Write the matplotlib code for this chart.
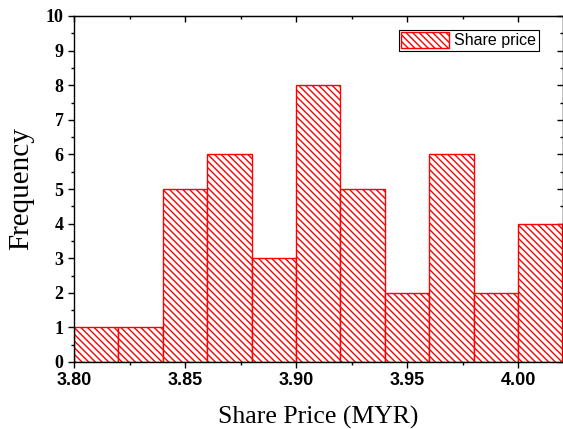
import matplotlib
matplotlib.use("Agg")
import matplotlib.pyplot as plt
from matplotlib.ticker import MultipleLocator
import numpy as np

# histogram bins (left edges) and counts
bin_edges = [3.80, 3.82, 3.84, 3.86, 3.88, 3.90, 3.92, 3.94, 3.96, 3.98, 4.00, 4.02]
counts = [1, 1, 5, 6, 3, 8, 5, 2, 6, 2, 4]
x_ticks = [3.80, 3.85, 3.90, 3.95, 4.00]
series_name = "Share price"

plt.rcParams['hatch.color'] = 'red'
plt.rcParams['hatch.linewidth'] = 1.0

fig = plt.figure(figsize=(5.63, 4.29), dpi=100)
ax = fig.add_axes([74 / 563, 1 - 362 / 429, (562.5 - 74) / 563, (362 - 16) / 429])

lefts = np.array(bin_edges[:-1])
widths = np.diff(bin_edges)
ax.bar(lefts, counts, width=widths, align='edge', facecolor='white',
       edgecolor='red', linewidth=1.0, hatch='\\' * 5, label=series_name)

ax.set_xlim(3.80, 4.02)
ax.set_ylim(0, 10)
ax.set_xticks(x_ticks)
ax.set_xticklabels(["%.2f" % v for v in x_ticks])
ax.xaxis.set_minor_locator(MultipleLocator(0.025))
ax.yaxis.set_major_locator(MultipleLocator(1))
ax.yaxis.set_minor_locator(MultipleLocator(0.5))

ax.tick_params(which='both', direction='out', top=False, right=False, width=1)
ax.tick_params(which='major', length=4)
ax.tick_params(which='minor', length=2.5)

# inward ticks on top and right
ax2 = ax.secondary_xaxis('top')
ax2.set_xticks(x_ticks)
ax2.xaxis.set_minor_locator(MultipleLocator(0.025))
ax2.tick_params(which='both', direction='in', labeltop=False, width=1)
ax2.tick_params(which='major', length=4)
ax2.tick_params(which='minor', length=2.5)
ax3 = ax.secondary_yaxis('right')
ax3.yaxis.set_major_locator(MultipleLocator(1))
ax3.yaxis.set_minor_locator(MultipleLocator(0.5))
ax3.tick_params(which='both', direction='in', labelright=False, width=1)
ax3.tick_params(which='major', length=4)
ax3.tick_params(which='minor', length=2.5)

for lbl in ax.get_xticklabels():
    lbl.set_fontfamily('Liberation Sans')
    lbl.set_fontweight('bold')
    lbl.set_fontsize(13)
for lbl in ax.get_yticklabels():
    lbl.set_fontfamily('Liberation Serif')
    lbl.set_fontweight('bold')
    lbl.set_fontsize(13)

ax.set_xlabel("Share Price (MYR)", fontfamily='Liberation Serif', fontsize=18.5, labelpad=12)
ax.set_ylabel("Frequency", fontfamily='Liberation Serif', fontsize=21, labelpad=8)

for sp in ax.spines.values():
    sp.set_linewidth(1.0)

leg = ax.legend(loc='upper right', bbox_to_anchor=(0.951, 0.96), prop={'family': 'Liberation Sans', 'size': 11.5},
                fancybox=False, framealpha=1, edgecolor='black', borderpad=0.15,
                handlelength=3.0, handleheight=1.1, handletextpad=0.3, borderaxespad=0)
leg.get_frame().set_linewidth(0.8)

fig.savefig("out.png", dpi=100)
